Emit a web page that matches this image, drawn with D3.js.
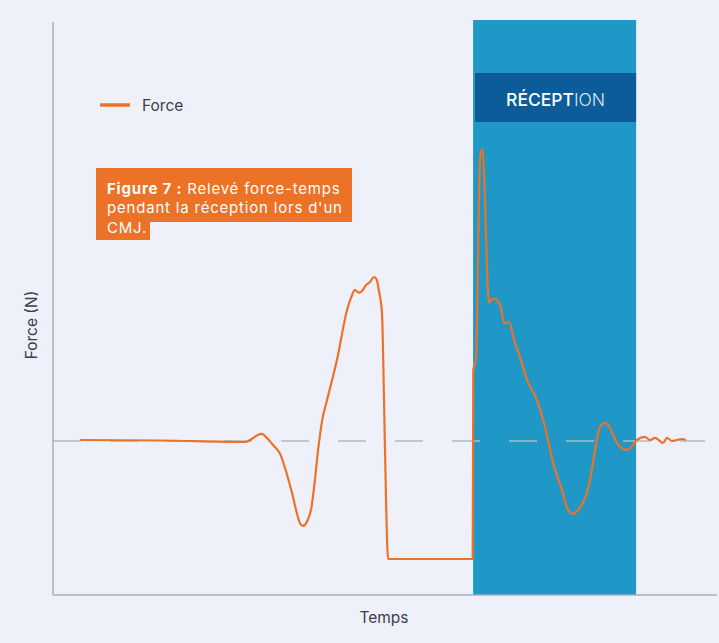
<!DOCTYPE html>
<html>
<head>
<meta charset="utf-8">
<script src="https://cdn.jsdelivr.net/npm/d3@7"></script>
<style>
  html, body { margin: 0; padding: 0; background: #eef1fa; }
  svg { display: block; font-family: Inter, "Noto Sans", sans-serif; }
</style>
</head>
<body>
<svg id="chart" width="719" height="643"></svg>
<script>
// time (s) and force (N)
const times = [0, 0.40, 0.817, 0.850, 0.880, 0.901, 0.925, 0.960, 0.990, 1.020, 1.050, 1.074,
  1.090, 1.105, 1.125, 1.145, 1.163, 1.178, 1.200, 1.223, 1.272, 1.322, 1.345, 1.361, 1.380, 1.396,
  1.416, 1.436, 1.455, 1.468, 1.480, 1.495, 1.505, 1.515, 1.525,
  1.944, 1.947, 1.960, 1.980, 1.990, 2.005, 2.015, 2.025, 2.040, 2.052, 2.070, 2.084, 2.099,
  2.112, 2.124, 2.149, 2.178, 2.213, 2.262, 2.302, 2.342, 2.386, 2.416, 2.441, 2.465, 2.490,
  2.525, 2.550, 2.574, 2.599, 2.624, 2.658, 2.708, 2.733, 2.757, 2.797, 2.822, 2.847, 2.871,
  2.886, 2.906, 2.931, 2.955, 2.980, 3.0];
const forces = [706, 703, 694, 712, 735, 742, 718, 670, 625, 520, 390, 270,
  210, 196, 225, 300, 469, 640, 830, 943, 1180, 1477, 1560, 1596, 1580, 1590,
  1625, 1643, 1673, 1660, 1590, 1459, 950, 350, 0,
  0, 1121, 1180, 2367, 2432, 2130, 1714, 1520, 1540, 1545, 1525, 1490, 1400,
  1400, 1406, 1299, 1198, 1062, 943, 783, 569, 409, 291, 267, 291, 332,
  469, 647, 783, 807, 777, 688, 647, 670, 706, 724, 706, 718, 700,
  688, 718, 700, 706, 712, 706];
const bodyWeight = 700;
const receptionStart = 1.946, receptionEnd = 2.753;
const legendLabel = "Force";
const xLabel = "Temps", yLabel = "Force (N)";

const data = times.map((t, i) => ({ t, f: forces[i] }));

const svg = d3.select("#chart");
const orange = "#ec7227";

const x = d3.scaleLinear().domain([0, 3]).range([80, 686]);
const y = d3.scaleLinear().domain([0, bodyWeight]).range([559, 441]);

const axLeft = 53, axBottom = 595, axTop = 22, axRight = 717;

// reception zone
svg.append("rect")
  .attr("x", x(receptionStart)).attr("y", 20)
  .attr("width", x(receptionEnd) - x(receptionStart)).attr("height", axBottom - 20)
  .attr("fill", "#1f98c7");

svg.append("rect")
  .attr("x", x(receptionStart) + 2).attr("y", 73)
  .attr("width", x(receptionEnd) - x(receptionStart) - 2).attr("height", 49)
  .attr("fill", "#0b5c99");

const rt = svg.append("text")
  .attr("x", (x(receptionStart) + x(receptionEnd)) / 2 + 1).attr("y", 106)
  .attr("text-anchor", "middle")
  .attr("fill", "#fff").attr("font-size", 17.5);
rt.append("tspan").attr("font-weight", 500).text("RÉCEPT");
rt.append("tspan").attr("font-weight", 300).attr("fill", "#d8e8f5").text("ION");

// body weight reference
svg.append("line")
  .attr("x1", axLeft).attr("x2", 705)
  .attr("y1", y(bodyWeight)).attr("y2", y(bodyWeight))
  .attr("stroke", "#b3b9c4").attr("stroke-width", 1.5)
  .attr("stroke-dasharray", "28 29");

// axes
svg.append("line").attr("x1", axLeft).attr("x2", axLeft).attr("y1", axTop).attr("y2", axBottom)
  .attr("stroke", "#a9aeb9").attr("stroke-width", 1.5);
svg.append("line").attr("x1", axLeft).attr("x2", axRight).attr("y1", axBottom).attr("y2", axBottom)
  .attr("stroke", "#a9aeb9").attr("stroke-width", 1.5);

// curve
const line = d3.line()
  .x(d => x(d.t))
  .y(d => y(d.f))
  .curve(d3.curveMonotoneX);

svg.append("path")
  .datum(data)
  .attr("d", line)
  .attr("fill", "none")
  .attr("stroke", orange)
  .attr("stroke-width", 2.2)
  .attr("stroke-linejoin", "round");

// legend
svg.append("line").attr("x1", 100).attr("x2", 130).attr("y1", 105).attr("y2", 105)
  .attr("stroke", orange).attr("stroke-width", 3.5);
svg.append("text").attr("x", 142).attr("y", 111)
  .attr("font-size", 15.5).attr("fill", "#3b3f47").text(legendLabel);

// caption box
svg.append("path")
  .attr("d", "M96,168 H352 V222 H150 V240 H96 Z")
  .attr("fill", orange);

const cap = svg.append("g").attr("fill", "#fff").attr("font-size", 15)
  .attr("letter-spacing", 0.8);
const l1 = cap.append("text").attr("x", 107).attr("y", 194);
l1.append("tspan").attr("font-weight", 700).text("Figure 7 :");
l1.append("tspan").text(" Relevé force-temps");
cap.append("text").attr("x", 107).attr("y", 213).text("pendant la réception lors d'un");
cap.append("text").attr("x", 107).attr("y", 233).text("CMJ.");

// axis labels
svg.append("text")
  .attr("x", 384).attr("y", 623).attr("text-anchor", "middle")
  .attr("font-size", 15.5).attr("fill", "#3b3f47").text(xLabel);
svg.append("text")
  .attr("transform", "translate(37,325) rotate(-90)").attr("text-anchor", "middle")
  .attr("font-size", 15.5).attr("fill", "#3b3f47").text(yLabel);
</script>
</body>
</html>
